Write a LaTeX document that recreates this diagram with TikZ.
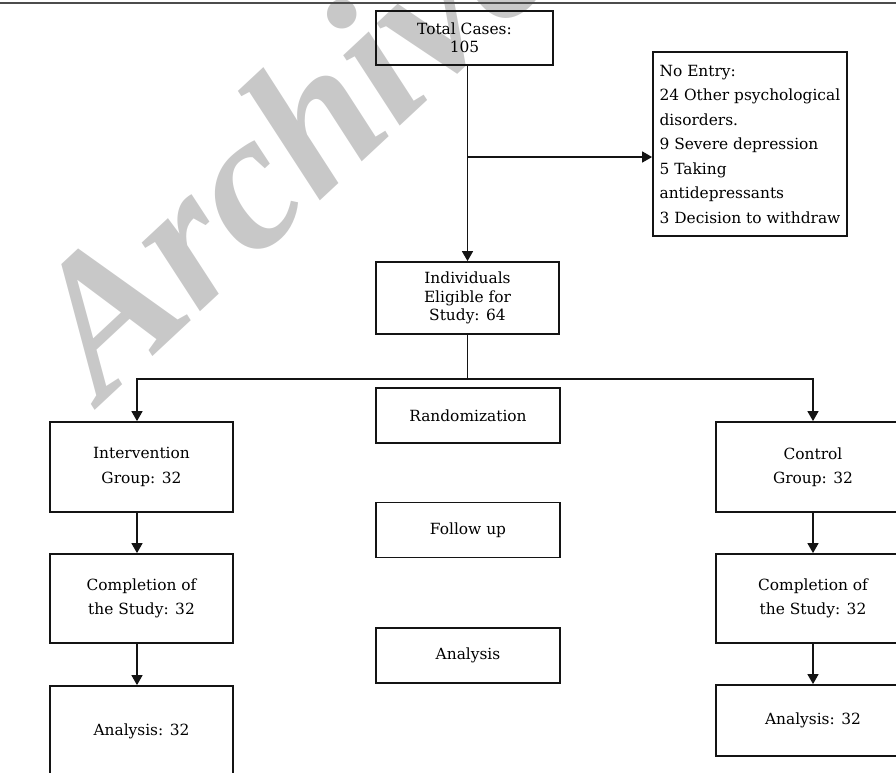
\documentclass[tikz,border=0pt]{standalone}
\usepackage{fontspec}
\setmainfont{DejaVu Serif}
\newfontfamily\wmfont{Liberation Serif}
\usetikzlibrary{arrows.meta}
\definecolor{wmgray}{RGB}{200,200,200}
\definecolor{ink}{RGB}{20,20,20}
\begin{document}
\begin{tikzpicture}[x=1pt,y=-1pt,
  box/.style={draw=ink, line width=1.8pt, rectangle, align=center, inner sep=0pt, text=black, font=\fontsize{15.4}{24.5}\selectfont},
  tight/.style={font=\fontsize{15.4}{18.5}\selectfont},
  arr/.style={draw=ink, line width=1.5pt, -{Triangle[width=11pt,length=10pt]}}]
\useasboundingbox (0,0) rectangle (896,772);
% watermark
\node[anchor=base west, rotate=43, text=wmgray, inner sep=0pt,
      font=\wmfont\bfseries\itshape\fontsize{196}{196}\selectfont] (wm) at (102,404) {Archive};
% top rule
\draw[line width=2pt, draw=black!70] (0,3) -- (896,3);
% boxes
\node[box,tight,minimum width=177pt,minimum height=54pt] (total) at (464.5,38) {Total Cases:\\105};
\node[box,align=left,minimum width=194pt,minimum height=184pt] (noentry) at (750,144)
  {No Entry:\\24 Other psychological\\disorders.\\9 Severe depression\\5 Taking\\antidepressants\\3 Decision to withdraw};
\node[box,tight,minimum width=183pt,minimum height=72pt] (indiv) at (467.5,298) {Individuals\\Eligible for\\Study: 64};
\node[box,minimum width=184pt,minimum height=55pt] (rand) at (468,415.5) {Randomization};
\node[box,minimum width=184pt,minimum height=55pt] (follow) at (468,530) {Follow up};
\node[box,minimum width=184pt,minimum height=55pt] (anal) at (468,655.5) {Analysis};
\node[box,minimum width=183pt,minimum height=90pt] (interv) at (141.5,467) {Intervention\\Group: 32};
\node[box,minimum width=183pt,minimum height=89pt] (compL) at (141.5,598.5) {Completion of\\the Study: 32};
\node[box,minimum width=183pt,minimum height=90pt] (anaL) at (141.5,731) {Analysis: 32};
\node[box,minimum width=194pt,minimum height=90pt] (control) at (813,467) {Control\\Group: 32};
\node[box,minimum width=194pt,minimum height=89pt] (compR) at (813,598.5) {Completion of\\the Study: 32};
\node[box,minimum width=194pt,minimum height=71pt] (anaR) at (813,720.5) {Analysis: 32};
% connectors
\coordinate (b1) at (467.5,157);
\coordinate (L) at (137,379);
\coordinate (R) at (813,379);
\draw[arr] (total.south -| indiv.north) -- (indiv.north);
\draw[arr] (b1) -- (b1 -| noentry.west);
\draw[arr] (indiv.south) -- (indiv.south |- L) -| (L |- interv.north);
\draw[arr] (indiv.south |- L) -| (R |- control.north);
\draw[arr] (L |- interv.south) -- (L |- compL.north);
\draw[arr] (L |- compL.south) -- (L |- anaL.north);
\draw[arr] (control.south) -- (compR.north);
\draw[arr] (compR.south) -- (anaR.north);
\end{tikzpicture}
\end{document}
